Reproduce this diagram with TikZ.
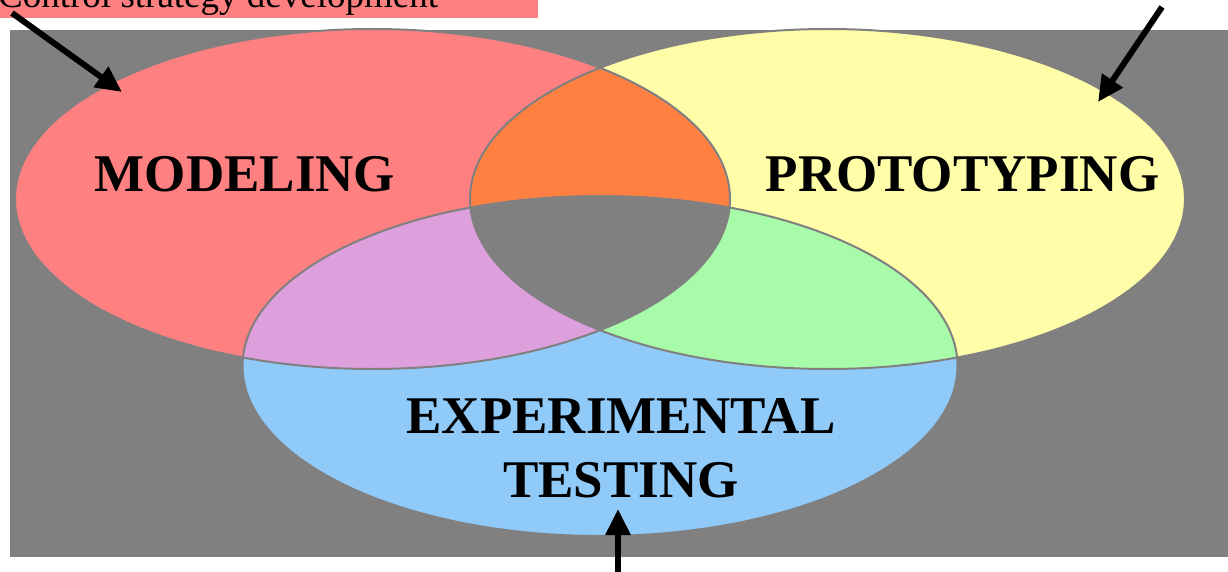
\documentclass[tikz,border=0pt]{standalone}
\usepackage{fontspec}
\setmainfont{Liberation Serif}
\usepackage{xcolor}
\usetikzlibrary{arrows.meta}

\definecolor{bggrey}{HTML}{808080}
\definecolor{modred}{HTML}{FF8080}
\definecolor{protoyellow}{HTML}{FFFDA8}
\definecolor{testblue}{HTML}{90CAF9}
\definecolor{mixorange}{HTML}{FF8040}
\definecolor{mixpurple}{HTML}{DDA0DD}
\definecolor{mixgreen}{HTML}{A8FBA8}

\newcommand{\modset}{(372.5,199) ellipse [x radius=357.5pt, y radius=170pt]}
\newcommand{\protoset}{(827.5,199) ellipse [x radius=357.5pt, y radius=170pt]}
\newcommand{\testset}{(600,366) ellipse [x radius=357.5pt, y radius=170pt]}

\begin{document}
\begin{tikzpicture}[x=1pt, y=-1pt,
    setlabel/.style={font=\fontsize{53}{64}\selectfont\bfseries, inner sep=0pt, align=center},
    pointer/.style={line width=6pt, -{Triangle[length=26pt, width=24pt]}},
    rim/.style={draw=bggrey, line width=2pt}]
    \useasboundingbox (0,0) rectangle (1228,572);
    \fill[bggrey] (10,30) rectangle (1228,557);
    \fill[modred] \modset;
    \fill[protoyellow] \protoset;
    \fill[testblue] \testset;
    \begin{scope}
        \clip \modset;
        \fill[mixorange] \protoset;
        \fill[mixpurple] \testset;
    \end{scope}
    \begin{scope}
        \clip \protoset;
        \fill[mixgreen] \testset;
        \clip \testset;
        \fill[bggrey] \modset;
    \end{scope}
    \draw[rim] \modset;
    \draw[rim] \protoset;
    \draw[rim] \testset;

    \node (modeling) [setlabel, anchor=base] at (245,192) {MODELING};
    \node (prototyping) [setlabel, anchor=base] at (962.5,192) {PROTOTYPING};
    \node (testing) [setlabel, anchor=base] at (621,497) {EXPERIMENTAL\\TESTING};
    \node (strategy) [fill=modred, anchor=base west, inner sep=0pt, text depth=10pt,
        font=\fontsize{37}{44}\selectfont] at (-2,8) {\makebox[540pt][l]{Control strategy development}};

    \coordinate (modtail) at (12,13);
    \coordinate (modtip) at (122,92);
    \coordinate (prototail) at (1162,7);
    \coordinate (prototip) at (1098,102);
    \coordinate (testtail) at (618,580);
    \coordinate (testtip) at (618,509);
    \draw[pointer] (modtail) -- (modtip);
    \draw[pointer] (prototail) -- (prototip);
    \draw[pointer] (testtail) -- (testtip);
\end{tikzpicture}
\end{document}
